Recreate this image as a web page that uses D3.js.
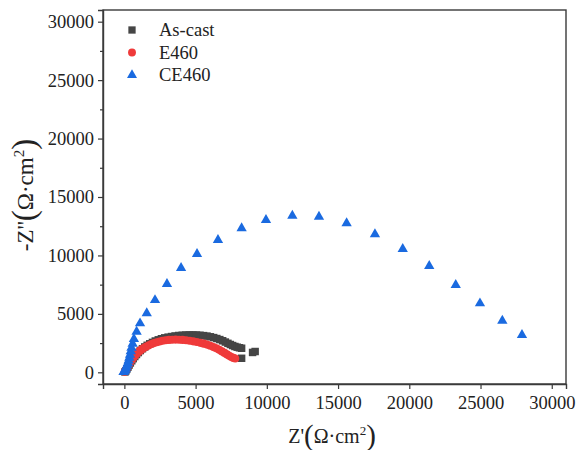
<!DOCTYPE html>
<html><head><meta charset="utf-8">
<script src="https://cdn.jsdelivr.net/npm/d3@7"></script>
<style>body{margin:0;background:#fff}svg{display:block}text{font-family:"Liberation Serif","Times New Roman",serif;fill:#222}</style>
</head><body><svg id="c" width="576" height="450"></svg>
<script>
const seriesNames = ["As-cast","E460","CE460"];
const seriesColors = ["#454545","#ef3a3a","#1a6ae0"];
const xTicks = [0,5000,10000,15000,20000,25000,30000];
const yTicks = [0,5000,10000,15000,20000,25000,30000];
const yMinor = [2500,7500,12500,17500,22500,27500];

const asCast = [[40,30],[100,130],[170,270],[250,440],[330,620],[420,800],[520,990],[620,1170],[730,1350],[850,1520],[980,1690],[1120,1860],[1270,2020],[1430,2170],[1600,2310],[1780,2440],[1970,2560],[2170,2680],[2380,2780],[2600,2870],[2830,2950],[3070,3010],[3310,3060],[3560,3110],[3810,3150],[4060,3170],[4310,3190],[4560,3200],[4810,3200],[5060,3190],[5310,3170],[5560,3140],[5800,3100],[6040,3040],[6270,2970],[6490,2890],[6700,2800],[6900,2700],[7090,2590],[7270,2480],[7440,2380],[7600,2290],[7760,2210],[7920,2150],[8080,2100],[8230,2060],[8230,1200],[9000,1700],[9180,1780]];

const e460 = [[30,50],[80,150],[150,300],[220,450],[300,620],[380,800],[460,960],[550,1120],[640,1270],[740,1420],[850,1560],[970,1710],[1100,1850],[1240,1980],[1390,2100],[1550,2210],[1720,2320],[1900,2420],[2080,2500],[2270,2570],[2470,2640],[2680,2700],[2900,2740],[3130,2770],[3360,2790],[3600,2800],[3840,2790],[4080,2770],[4330,2740],[4580,2700],[4830,2650],[5080,2590],[5330,2520],[5570,2450],[5800,2370],[6030,2270],[6250,2160],[6460,2050],[6660,1920],[6850,1790],[7030,1660],[7200,1530],[7360,1410],[7510,1310],[7650,1230],[7780,1180]];

const ce460 = [[-60,20],[0,80],[50,180],[100,300],[150,450],[200,620],[250,800],[300,1000],[350,1250],[400,1500],[450,1800],[500,2100],[580,2450],[670,2850],[860,3470],[1100,4190],[1570,5050],[2150,6180],[2990,7550],[3980,8920],[5100,10120],[6570,11320],[8230,12320],[9940,13030],[11790,13400],[13660,13310],[15600,12750],[17590,11810],[19540,10550],[21400,9090],[23260,7470],[24960,5900],[26530,4410],[27910,3190]];

const data = [asCast, e460, ce460];
const symbols = [d3.symbolSquare, d3.symbolCircle, d3.symbolTriangle];
const sizes = [56, 52, 46];

const svg = d3.select("#c");
const W = 576, H = 450;
const m = {l:103, r:10, t:10, b:66};
const x = d3.scaleLinear().domain([-1500,31000]).range([m.l, W-m.r]);
const y = d3.scaleLinear().domain([-1000,31000]).range([H-m.b, m.t]);

svg.append("rect").attr("x",m.l).attr("y",m.t).attr("width",W-m.l-m.r).attr("height",H-m.t-m.b)
  .attr("fill","none").attr("stroke","#3a3a3a").attr("stroke-width",1.4);

svg.append("g").attr("transform",`translate(0,${H-m.b})`)
  .call(d3.axisBottom(x).tickValues(xTicks).tickSize(5).tickPadding(7).tickFormat(d3.format("d")));
svg.append("g").attr("transform",`translate(${m.l},0)`)
  .call(d3.axisLeft(y).tickValues(yTicks).tickSize(5).tickPadding(4).tickFormat(d3.format("d")));
svg.append("g").attr("transform",`translate(${m.l},0)`)
  .call(d3.axisLeft(y).tickValues(yMinor).tickSize(3).tickFormat(""))
  .call(g=>g.select(".domain").remove());
svg.selectAll(".domain").attr("stroke","#3a3a3a").attr("stroke-width",1.4);
svg.selectAll(".tick line").attr("stroke","#3a3a3a").attr("stroke-width",1.2);
svg.selectAll("g").attr("font-family",null);
svg.selectAll(".tick text").attr("font-size",18.5).attr("fill","#222")
  .style("font-family",'"Liberation Serif", serif');

data.forEach((ser,i)=>{
  svg.append("g").selectAll("path").data(ser).join("path")
    .attr("d", d3.symbol(symbols[i], sizes[i]))
    .attr("transform", d=>`translate(${x(d[0])},${y(d[1])})`)
    .attr("fill", seriesColors[i]);
});

const lg = svg.append("g");
seriesNames.forEach((n,i)=>{
  const yy = 30 + i*22.5;
  lg.append("path").attr("d", d3.symbol(symbols[i], sizes[i]*0.95)).attr("transform",`translate(132,${yy})`).attr("fill",seriesColors[i]);
  lg.append("text").attr("x",159).attr("y",yy+6).attr("font-size",18.5).text(n);
});

const xt = svg.append("text").attr("x",332).attr("y",443).attr("text-anchor","middle").attr("font-size",20);
xt.append("tspan").text("Z'");
xt.append("tspan").attr("font-size",29).attr("dy",2).text("(");
xt.append("tspan").attr("dy",-2).text("Ω·cm");
xt.append("tspan").attr("font-size",13).attr("dy",-8).text("2");
xt.append("tspan").attr("font-size",29).attr("dy",10).text(")");

const yt = svg.append("text").attr("transform","translate(33,195) rotate(-90)").attr("text-anchor","middle").attr("font-size",23);
yt.append("tspan").text("-Z''");
yt.append("tspan").attr("font-size",33).attr("dy",2).text("(");
yt.append("tspan").attr("dy",-2).text("Ω·cm");
yt.append("tspan").attr("font-size",15).attr("dy",-9).text("2");
yt.append("tspan").attr("font-size",33).attr("dy",11).text(")");
</script></body></html>
